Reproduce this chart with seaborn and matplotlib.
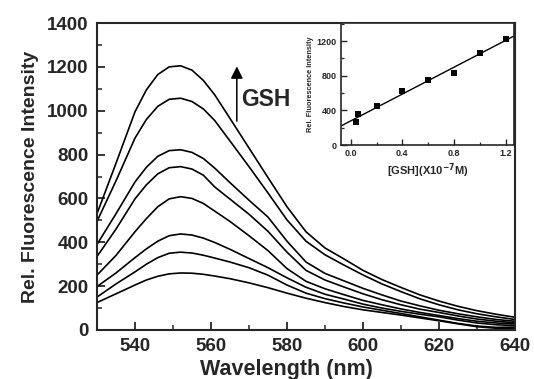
import numpy as np
import pandas as pd
import seaborn as sns
import matplotlib.pyplot as plt
from matplotlib.ticker import MultipleLocator

# emission spectra
wavelength = [530, 535, 540, 543, 546, 549, 552, 555, 558, 561, 565, 570, 575,
              580, 585, 590, 595, 600, 605, 610, 615, 620, 625, 630, 635, 640]

c1 = [530, 760, 995, 1095, 1165, 1200, 1205, 1185, 1138, 1072, 965, 830, 695,
      562, 448, 374, 324, 272, 230, 194, 160, 132, 108, 88, 72, 58]
c2 = [495, 680, 875, 960, 1020, 1052, 1057, 1042, 1008, 955, 862, 745, 625,
      502, 405, 343, 296, 251, 210, 175, 142, 115, 92, 74, 60, 48]
c3 = [390, 530, 675, 742, 792, 818, 822, 810, 782, 738, 672, 592, 515,
      405, 310, 258, 224, 190, 160, 132, 110, 90, 74, 60, 48, 40]
c4 = [335, 460, 598, 662, 712, 740, 745, 734, 706, 652, 597, 528, 450,
      355, 272, 228, 196, 165, 138, 115, 95, 80, 64, 50, 40, 33]
c5 = [250, 340, 448, 508, 562, 598, 608, 600, 577, 542, 495, 430, 362,
      280, 222, 188, 161, 135, 115, 96, 80, 66, 52, 40, 32, 27]
c6 = [198, 260, 330, 370, 405, 430, 438, 433, 419, 399, 368, 326, 284,
      238, 195, 163, 141, 118, 100, 85, 72, 60, 45, 32, 24, 20]
c7 = [150, 210, 265, 300, 330, 350, 355, 351, 341, 328, 310, 284, 250,
      205, 168, 143, 123, 105, 90, 75, 60, 45, 30, 18, 12, 13]
c8 = [125, 165, 205, 228, 245, 256, 260, 259, 254, 246, 234, 215, 193,
      168, 145, 125, 107, 92, 80, 68, 55, 42, 28, 15, 8, 5]
curves = [c1, c2, c3, c4, c5, c6, c7, c8]

# inset: calibration
gsh_conc = [0.04, 0.06, 0.2, 0.4, 0.6, 0.8, 1.0, 1.2]
gsh_intensity = [263, 356, 445, 619, 751, 836, 1068, 1223]

sns.set_style("ticks")
plt.rcParams['font.family'] = ['Liberation Sans', 'DejaVu Sans']
plt.rcParams['font.weight'] = 'bold'
plt.rcParams['mathtext.default'] = 'bf'
plt.rcParams['xtick.direction'] = 'in'
plt.rcParams['ytick.direction'] = 'in'

fig = plt.figure(figsize=(5.34, 3.79), dpi=100)
ax = fig.add_axes([0.1816, 0.1293, 0.7828, 0.81])

for c in curves:
    sns.lineplot(x=wavelength, y=c, ax=ax, color='black', linewidth=1.2)

ax.set_xlim(530, 640)
ax.set_ylim(0, 1400)
ax.xaxis.set_major_locator(MultipleLocator(20))
ax.xaxis.set_minor_locator(MultipleLocator(10))
ax.yaxis.set_major_locator(MultipleLocator(200))
ax.yaxis.set_minor_locator(MultipleLocator(100))
ax.tick_params(which='major', length=6, width=1.3, labelsize=13.5, pad=6)
ax.tick_params(which='minor', length=3.5, width=1.1)
for s in ax.spines.values():
    s.set_linewidth(1.5)
ax.set_xlabel('Wavelength (nm)', fontsize=15.5, fontweight='bold', labelpad=3)
ax.xaxis.label.set_x(0.453)
ax.set_ylabel('Rel. Fluorescence Intensity', fontsize=14, fontweight='bold', labelpad=6)

# arrow + GSH label
ax.annotate('', xy=(566.8, 1215), xytext=(566.8, 940),
            arrowprops=dict(arrowstyle='-|>', color='black', lw=1.1,
                            mutation_scale=18))
ax.text(568.0, 1052, 'GSH', fontsize=16.5, fontweight='bold', va='center', ha='left')

# inset
ins = fig.add_axes([0.6386, 0.6174, 0.324, 0.322])
ins.set_xlim(-0.075, 1.265)
ins.set_ylim(0, 1410)
sns.regplot(x=gsh_conc, y=gsh_intensity, ax=ins, ci=None, truncate=False,
            marker='s', color='black',
            scatter_kws=dict(s=22, linewidths=0, alpha=1),
            line_kws=dict(linewidth=1.0))
ins.set_xlim(-0.075, 1.265)
ins.set_ylim(0, 1410)
ins.xaxis.set_major_locator(MultipleLocator(0.4))
ins.xaxis.set_minor_locator(MultipleLocator(0.2))
ins.yaxis.set_major_locator(MultipleLocator(400))
ins.yaxis.set_minor_locator(MultipleLocator(200))
ins.xaxis.set_major_formatter(plt.FormatStrFormatter('%.1f'))
ins.tick_params(which='major', length=4, width=1.0, labelsize=6.5, pad=3)
ins.tick_params(which='minor', length=2.5, width=0.9)
for s in ins.spines.values():
    s.set_linewidth(1.2)
ins.set_xlabel('[GSH](X10$^{-7}$M)', fontsize=8, fontweight='bold', labelpad=2)
ins.set_ylabel('Rel. Fluorescence Intensity', fontsize=5.3, fontweight='bold', labelpad=2)

fig.savefig('out.png', dpi=100)
